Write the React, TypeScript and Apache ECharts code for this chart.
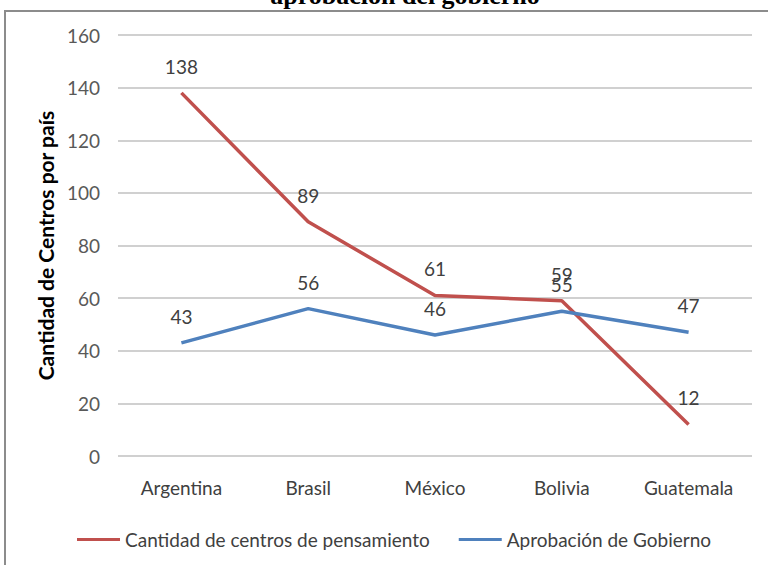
import React, { useEffect, useRef } from "react";
import * as echarts from "echarts";

const categories = ["Argentina", "Brasil", "México", "Bolivia", "Guatemala"];
const centros = [138, 89, 61, 59, 12];
const aprobacion = [43, 56, 46, 55, 47];
const seriesNames = ["Cantidad de centros de pensamiento", "Aprobación de Gobierno"];
const titleText = "aprobación del gobierno";
const yAxisTitle = "Cantidad de Centros por país";

const FONT = "Lato, 'Noto Sans', sans-serif";
const RED = "#C0504D";
const BLUE = "#4F81BD";

export default function App() {
  const ref = useRef<HTMLDivElement>(null);
  useEffect(() => {
    if (!ref.current) return;
    const chart = echarts.init(ref.current, undefined, { renderer: "svg" });
    const labelStyle = {
      show: true,
      position: "top" as const,
      distance: 17,
      color: "#404040",
      fontSize: 19,
      fontFamily: FONT,
    };
    chart.setOption({
      animation: false,
      backgroundColor: "#ffffff",
      graphic: [
        {
          type: "rect",
          shape: { x: 5, y: 11, width: 800, height: 600 },
          style: { fill: "none", stroke: "#8c8c8c", lineWidth: 2 },
          silent: true,
          z: -1,
        },
        {
          type: "text",
          x: 405,
          y: 8,
          style: {
            text: titleText,
            fill: "#000",
            font: "bold 26px 'Liberation Serif', 'Times New Roman', serif",
            textAlign: "center",
            textVerticalAlign: "bottom",
          },
        },
      ],
      grid: { left: 118, right: 16, top: 35, bottom: 109, containLabel: false },
      legend: {
        left: 72,
        top: 525,
        itemWidth: 43,
        itemHeight: 3,
        itemGap: 29,
        textStyle: { color: "#404040", fontSize: 19, fontFamily: FONT },
        data: [
          { name: seriesNames[0], icon: "rect", itemStyle: { color: RED } },
          { name: seriesNames[1], icon: "rect", itemStyle: { color: BLUE } },
        ],
      },
      xAxis: {
        type: "category",
        data: categories,
        boundaryGap: true,
        axisLine: { show: false },
        axisTick: { show: false },
        axisLabel: { color: "#404040", fontSize: 19, fontFamily: FONT, margin: 22 },
      },
      yAxis: {
        type: "value",
        min: 0,
        max: 160,
        interval: 20,
        name: yAxisTitle,
        nameLocation: "middle",
        nameGap: 62,
        nameTextStyle: { color: "#000", fontSize: 21, fontWeight: "bold", fontFamily: FONT },
        axisLine: { show: false },
        axisTick: { show: false },
        axisLabel: { color: "#595959", fontSize: 19, fontFamily: FONT, margin: 18 },
        splitLine: { lineStyle: { color: "#d0d0d0", width: 2 } },
      },
      series: [
        {
          name: seriesNames[0],
          type: "line",
          data: centros,
          symbol: "circle",
          symbolSize: 0,
          showSymbol: true,
          lineStyle: { color: RED, width: 3.5 },
          itemStyle: { color: RED },
          label: labelStyle,
        },
        {
          name: seriesNames[1],
          type: "line",
          data: aprobacion,
          symbol: "circle",
          symbolSize: 0,
          showSymbol: true,
          lineStyle: { color: BLUE, width: 3.5 },
          itemStyle: { color: BLUE },
          label: labelStyle,
        },
      ],
    });
    return () => chart.dispose();
  }, []);
  return <div ref={ref} style={{ width: 768, height: 565, position: "fixed", left: 0, top: 0 }} />;
}
